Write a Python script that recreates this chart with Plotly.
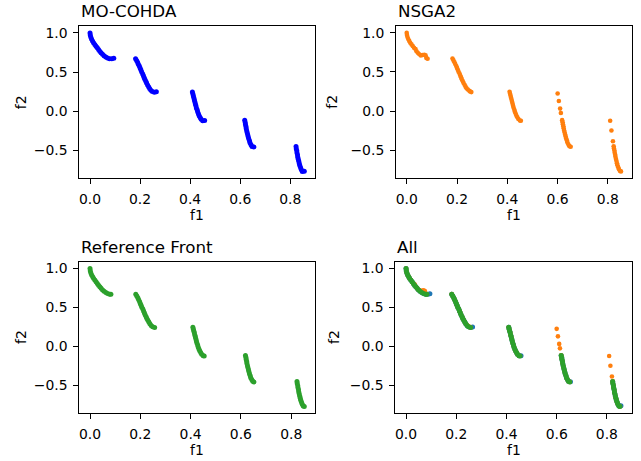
import plotly.graph_objects as go

# ---------------- data ----------------
cohda_f1 = [0.000, 0.001, 0.003, 0.006, 0.010, 0.014, 0.019, 0.024, 0.029, 0.034, 0.039, 0.044, 0.050, 0.056, 0.063, 0.070, 0.078, 0.087, 0.095,
            0.182, 0.186, 0.190, 0.193, 0.197, 0.200, 0.203, 0.206, 0.210, 0.213, 0.216, 0.219, 0.223, 0.226, 0.230, 0.234, 0.238, 0.243, 0.249, 0.257, 0.265,
            0.409, 0.411, 0.413, 0.415, 0.417, 0.419, 0.421, 0.423, 0.425, 0.428, 0.430, 0.433, 0.436, 0.440, 0.444, 0.450, 0.458,
            0.618, 0.620, 0.621, 0.623, 0.624, 0.626, 0.628, 0.630, 0.632, 0.634, 0.637, 0.639, 0.643, 0.647, 0.655,
            0.823, 0.824, 0.826, 0.827, 0.829, 0.830, 0.832, 0.834, 0.836, 0.838, 0.841, 0.844, 0.848, 0.856]
cohda_f2 = [1.000, 0.973, 0.947, 0.922, 0.898, 0.875, 0.853, 0.831, 0.809, 0.787, 0.766, 0.746, 0.726, 0.708, 0.691, 0.678, 0.671, 0.670, 0.677,
            0.671, 0.648, 0.624, 0.601, 0.577, 0.552, 0.528, 0.504, 0.479, 0.455, 0.431, 0.407, 0.382, 0.359, 0.335, 0.312, 0.290, 0.269, 0.251, 0.242, 0.249,
            0.246, 0.221, 0.195, 0.170, 0.144, 0.119, 0.093, 0.068, 0.042, 0.017, -0.008, -0.033, -0.057, -0.081, -0.103, -0.121, -0.120,
            -0.117, -0.144, -0.170, -0.196, -0.222, -0.249, -0.275, -0.301, -0.327, -0.353, -0.378, -0.404, -0.428, -0.450, -0.456,
            -0.451, -0.479, -0.506, -0.533, -0.560, -0.587, -0.614, -0.641, -0.668, -0.694, -0.720, -0.746, -0.769, -0.766]

nsga2_f1 = [0.000, 0.001, 0.003, 0.006, 0.010, 0.014, 0.019, 0.024, 0.029, 0.035, 0.039, 0.044, 0.050, 0.056, 0.063, 0.070, 0.075, 0.078, 0.083,
            0.182, 0.186, 0.190, 0.193, 0.197, 0.200, 0.203, 0.206, 0.210, 0.213, 0.216, 0.219, 0.223, 0.226, 0.230, 0.234, 0.238, 0.243, 0.249, 0.252, 0.257,
            0.409, 0.411, 0.413, 0.415, 0.417, 0.419, 0.421, 0.423, 0.425, 0.428, 0.430, 0.433, 0.436, 0.440, 0.444, 0.450, 0.454,
            0.600, 0.605, 0.610, 0.613,
            0.618, 0.620, 0.621, 0.623, 0.624, 0.626, 0.628, 0.630, 0.632, 0.634, 0.637, 0.639, 0.643, 0.647, 0.652,
            0.809, 0.814, 0.820,
            0.823, 0.824, 0.826, 0.827, 0.829, 0.830, 0.832, 0.834, 0.836, 0.838, 0.841, 0.844, 0.848, 0.852]
nsga2_f2 = [1.000, 0.973, 0.947, 0.922, 0.898, 0.875, 0.853, 0.831, 0.809, 0.795, 0.766, 0.746, 0.726, 0.712, 0.718, 0.721, 0.712, 0.680, 0.670,
            0.671, 0.648, 0.624, 0.601, 0.577, 0.552, 0.528, 0.504, 0.479, 0.455, 0.431, 0.407, 0.382, 0.359, 0.335, 0.312, 0.290, 0.275, 0.258, 0.250, 0.242,
            0.246, 0.221, 0.195, 0.170, 0.144, 0.119, 0.093, 0.068, 0.042, 0.017, -0.008, -0.033, -0.057, -0.081, -0.103, -0.121, -0.124,
            0.225, 0.128, 0.031, -0.026,
            -0.117, -0.144, -0.170, -0.196, -0.222, -0.249, -0.275, -0.301, -0.327, -0.353, -0.378, -0.404, -0.428, -0.450, -0.458,
            -0.125, -0.249, -0.388,
            -0.451, -0.479, -0.506, -0.533, -0.560, -0.587, -0.614, -0.641, -0.668, -0.694, -0.720, -0.746, -0.769, -0.773]

ref_f1 = [0.000, 0.001, 0.003, 0.006, 0.010, 0.014, 0.019, 0.024, 0.029, 0.034, 0.039, 0.044, 0.050, 0.056, 0.063, 0.070, 0.078, 0.083,
          0.182, 0.186, 0.190, 0.193, 0.197, 0.200, 0.203, 0.206, 0.210, 0.213, 0.216, 0.219, 0.223, 0.226, 0.230, 0.234, 0.238, 0.243, 0.249, 0.257,
          0.409, 0.411, 0.413, 0.415, 0.417, 0.419, 0.421, 0.423, 0.425, 0.428, 0.430, 0.433, 0.436, 0.440, 0.444, 0.450, 0.454,
          0.618, 0.620, 0.621, 0.623, 0.624, 0.626, 0.628, 0.630, 0.632, 0.634, 0.637, 0.639, 0.643, 0.647, 0.652,
          0.823, 0.824, 0.826, 0.827, 0.829, 0.830, 0.832, 0.834, 0.836, 0.838, 0.841, 0.844, 0.848, 0.852]
ref_f2 = [1.000, 0.973, 0.947, 0.922, 0.898, 0.875, 0.853, 0.831, 0.809, 0.787, 0.766, 0.746, 0.726, 0.708, 0.691, 0.678, 0.671, 0.670,
          0.671, 0.648, 0.624, 0.601, 0.577, 0.552, 0.528, 0.504, 0.479, 0.455, 0.431, 0.407, 0.382, 0.359, 0.335, 0.312, 0.290, 0.269, 0.251, 0.242,
          0.246, 0.221, 0.195, 0.170, 0.144, 0.119, 0.093, 0.068, 0.042, 0.017, -0.008, -0.033, -0.057, -0.081, -0.103, -0.121, -0.124,
          -0.117, -0.144, -0.170, -0.196, -0.222, -0.249, -0.275, -0.301, -0.327, -0.353, -0.378, -0.404, -0.428, -0.450, -0.458,
          -0.451, -0.479, -0.506, -0.533, -0.560, -0.587, -0.614, -0.641, -0.668, -0.694, -0.720, -0.746, -0.769, -0.773]

panel_titles = ["MO-COHDA", "NSGA2", "Reference Front", "All"]
x_ticks = [0.0, 0.2, 0.4, 0.6, 0.8]
y_ticks = [-0.5, 0.0, 0.5, 1.0]

# ---------------- figure ----------------
W, H = 641, 461
FONT = "DejaVu Sans"
TICK_PX = 13.9
TITLE_PX = 16.7

def px_x(p):
    return p / W

def px_y(p):
    return 1 - p / H

# axes boxes in screen pixels: (left, right, top, bottom)
boxes = [(79.3, 315.0, 26.0, 178.3),
         (396.0, 631.7, 26.0, 178.3),
         (79.3, 315.0, 261.7, 413.3),
         (395.3, 631.7, 261.7, 413.3)]
ylabel_x = [21.0, 332.5, 20.5, 333.5]

def pad_range(vals):
    lo, hi = min(vals), max(vals)
    m = (hi - lo) * 0.05
    return [lo - m, hi + m]

fig = go.Figure()

def add(xs, ys, color, idx, size=5):
    sfx = "" if idx == 1 else str(idx)
    fig.add_trace(go.Scatter(x=xs, y=ys, mode="markers",
                             marker=dict(color=color, size=size, line=dict(width=0)),
                             xaxis="x" + sfx, yaxis="y" + sfx, showlegend=False,
                             hoverinfo="skip"))

add(cohda_f1, cohda_f2, "#0000ff", 1)
add(nsga2_f1, nsga2_f2, "#ff7f0e", 2, 4.6)
add(ref_f1, ref_f2, "#2ca02c", 3)
add(cohda_f1, cohda_f2, "#1f77b4", 4)
add(nsga2_f1, nsga2_f2, "#ff7f0e", 4, 4.6)
add(ref_f1, ref_f2, "#2ca02c", 4)

ranges = [
    (pad_range(cohda_f1), pad_range(cohda_f2)),
    (pad_range(nsga2_f1), pad_range(nsga2_f2)),
    (pad_range(ref_f1), pad_range(ref_f2)),
    (pad_range(cohda_f1 + nsga2_f1 + ref_f1), pad_range(cohda_f2 + nsga2_f2 + ref_f2)),
]

axis_common = dict(showline=True, linecolor="black", linewidth=1, mirror=True,
                   ticks="outside", ticklen=5, tickwidth=1, tickcolor="black",
                   showgrid=False, zeroline=False, ticklabelstandoff=3,
                   tickfont=dict(family=FONT, size=TICK_PX, color="black"))

layout = dict(width=W, height=H, margin=dict(l=0, r=0, t=0, b=0),
              paper_bgcolor="white", plot_bgcolor="white",
              font=dict(family=FONT, color="black"))
annotations = []
for i, ((l, r, t, b), (xr, yr), title) in enumerate(zip(boxes, ranges, panel_titles)):
    n = i + 1
    sfx = "" if n == 1 else str(n)
    layout["xaxis" + sfx] = dict(axis_common, domain=[px_x(l), px_x(r)], range=xr,
                                 tickvals=x_ticks, ticktext=[f"{v:.1f}" for v in x_ticks],
                                 anchor="y" + sfx)
    layout["yaxis" + sfx] = dict(axis_common, domain=[px_y(b), px_y(t)], range=yr,
                                 tickvals=y_ticks, ticktext=[("\u2212" if v < 0 else "") + f"{abs(v):.1f}" for v in y_ticks],
                                 anchor="x" + sfx)
    annotations.append(dict(text=title, x=px_x(l), y=px_y(t - 14.8), xref="paper", yref="paper",
                            xanchor="left", yanchor="middle", showarrow=False,
                            font=dict(family=FONT, size=TITLE_PX, color="black")))
    annotations.append(dict(text="f1", x=px_x((l + r) / 2), y=px_y(b + 37), xref="paper", yref="paper",
                            xanchor="center", yanchor="middle", showarrow=False,
                            font=dict(family=FONT, size=TICK_PX, color="black")))
    annotations.append(dict(text="f2", x=px_x(ylabel_x[i]), y=px_y((t + b) / 2), xref="paper", yref="paper",
                            xanchor="center", yanchor="middle", showarrow=False, textangle=-90,
                            font=dict(family=FONT, size=TICK_PX, color="black")))
layout["annotations"] = annotations
fig.update_layout(**layout)

fig.write_html("out.html",
               config={"displayModeBar": False, "staticPlot": True},
               post_script="document.body.style.margin='0';document.body.style.padding='0';")
